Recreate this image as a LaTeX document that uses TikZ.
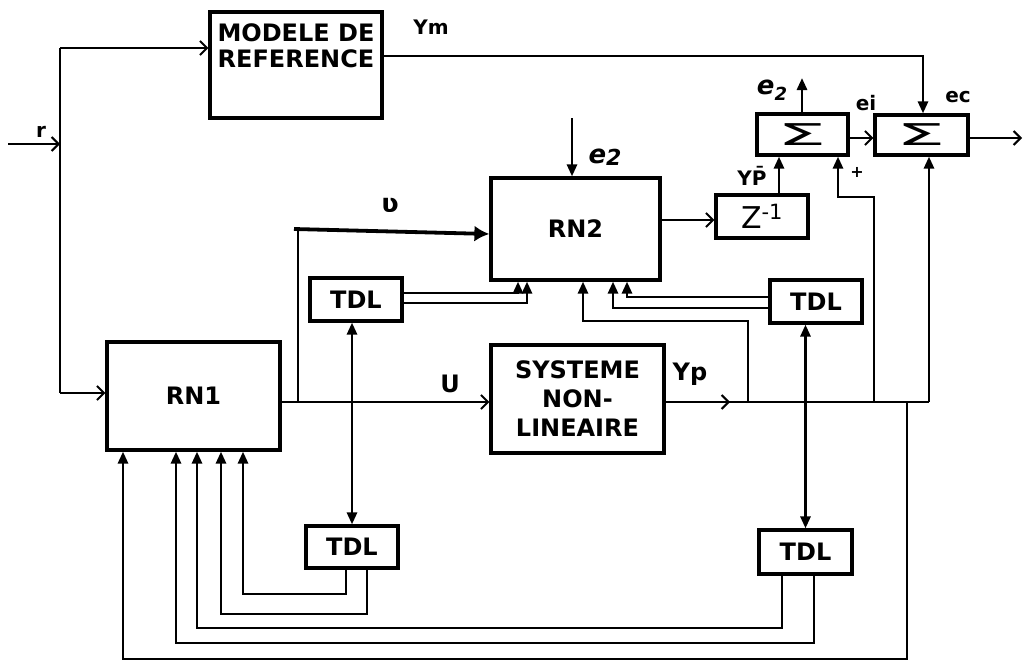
\documentclass[tikz,border=0pt]{standalone}
\usepackage{fontspec}
\setmainfont{DejaVu Sans}
\usepackage{graphicx}
\usetikzlibrary{arrows.meta}
\begin{document}
\begin{tikzpicture}[x=1pt,y=-1pt,
  line width=2.8pt,
  blk/.style={draw, line width=3.2pt, rectangle, inner sep=0pt, font=\fontsize{24}{29}\selectfont\bfseries, align=center},
  lbl/.style={inner sep=0pt, font=\fontsize{24}{26}\selectfont\bfseries},
  slbl/.style={inner sep=0pt, font=\fontsize{20}{22}\selectfont\bfseries},
  hand/.style={inner sep=0pt, font=\fontsize{26}{28}\selectfont\bfseries\itshape},
  oarr/.style={-{Straight Barb[length=7pt,width=14pt,line width=2pt]}},
  farr/.style={-{Triangle[length=12pt,width=10pt]}},
  fboth/.style={{Triangle[length=12pt,width=10pt]}-{Triangle[length=12pt,width=10pt]}},
  ]
\useasboundingbox (0,0) rectangle (1031,661);
\fill[white] (0,0) rectangle (1031,661);

% boxes
\node[blk, minimum width=172pt, minimum height=106pt] (mod) at (296,65) {};
\node[inner sep=0pt, font=\fontsize{24}{26}\selectfont\bfseries, align=center] (modt) at (296,46) {MODELE DE\\REFERENCE};
\node[blk, minimum width=173pt, minimum height=108pt] (rn1) at (193.5,396) {RN1};
\node[blk, minimum width=169pt, minimum height=102pt] (rn2) at (575.5,229) {RN2};
\node[blk, minimum width=173pt, minimum height=108pt] (sys) at (577.5,399) {SYSTEME\\NON-\\LINEAIRE};
\node[blk, minimum width=92pt, minimum height=43pt] (tdl1) at (356,299.5) {TDL};
\node[blk, minimum width=92pt, minimum height=43pt] (tdl3) at (816,301.5) {TDL};
\node[blk, minimum width=92pt, minimum height=42pt] (tdl4) at (352,547) {TDL};
\node[blk, minimum width=93pt, minimum height=44pt] (tdl5) at (805.5,552) {TDL};
\node[blk, minimum width=92pt, minimum height=43pt, font=\fontsize{30}{32}\selectfont] (zbox) at (762,216.5) {Z\textsuperscript{-1}};
\node[blk, minimum width=91pt, minimum height=41pt, font=\fontsize{30}{32}\selectfont] (sum1) at (802.5,134.5) {\scalebox{2.6}[1]{Σ}};
\node[blk, minimum width=93pt, minimum height=40pt, font=\fontsize{30}{32}\selectfont] (sum2) at (921.5,135) {\scalebox{2.6}[1]{Σ}};

% coordinates
\coordinate (rin) at (8,144);
\coordinate (rj) at (60,144);
\coordinate (rtop) at (60,48);
\coordinate (rbot) at (60,393);
\coordinate (ymc) at (923,56);
\coordinate (uj) at (298,402);
\coordinate (uth) at (294,229);
\coordinate (yp) at (664,402);
\coordinate (ypa) at (730,402);
\coordinate (ypj1) at (748,402);
\coordinate (ypj2) at (874,402);
\coordinate (ypj3) at (907,402);
\coordinate (ypend) at (929,402);
\coordinate (outc) at (1022,138);
\coordinate (e2o) at (802,78);
\coordinate (e2i) at (572,118);

% reference input
\draw[oarr] (rin) -- (rj);
\draw (rtop) -- (rbot);
\draw[oarr] (rtop) -- (rtop -| mod.west);
\draw[oarr] (rbot) -- (rbot -| rn1.west);

% model output
\draw[farr] (mod.east |- ymc) -- (ymc) -- (ymc |- sum2.north);

% U
\draw[oarr] (rn1.east |- uj) -- (sys.west |- uj);
\draw (uj) -- (298,229);
\draw[line width=3.8pt, -{Latex[length=15pt,width=16pt]}] (uth) -- (rn2.west |- 0,234);
\draw[fboth] (tdl4.north |- tdl1.south) -- (tdl4.north);

% TDL1 -> RN2
\draw[farr] (tdl1.east |- 0,293) -| (518,0 |- rn2.south);
\draw[farr] (tdl1.east |- 0,303) -| (527,0 |- rn2.south);

% Yp
\draw[oarr] (sys.east |- yp) -- (ypa);
\draw (728,402) -- (ypend);
\draw[farr] (ypj1) |- (583,321) -- (583,0 |- rn2.south);
\draw[farr] (tdl3.west |- 0,297) -| (627,0 |- rn2.south);
\draw[farr] (tdl3.west |- 0,308) -| (613,0 |- rn2.south);
\draw[fboth] (tdl5.north) -- (tdl5.north |- tdl3.south);
\draw[farr] (ypj2) |- (838,197) -- (838,0 |- sum1.south);
\draw[farr] (ypend) -- (ypend |- sum2.south);
\draw[farr] (ypj3) -- (907,659) -| (123,0 |- rn1.south);

% TDL outputs to RN1
\draw[farr] (782,0 |- tdl5.south) |- (197,628) -- (197,0 |- rn1.south);
\draw[farr] (814,0 |- tdl5.south) |- (176,643) -- (176,0 |- rn1.south);
\draw[farr] (346,0 |- tdl4.south) |- (243,594) -- (243,0 |- rn1.south);
\draw[farr] (367,0 |- tdl4.south) |- (221,614) -- (221,0 |- rn1.south);

% RN2 -> Z -> sum
\draw[oarr] (rn2.east |- 0,220) -- (zbox.west |- 0,220);
\draw[farr] (779,0 |- zbox.north) -- (779,0 |- sum1.south);
\draw[farr] (802,0 |- sum1.north) -- (e2o);
\draw[oarr] (sum1.east |- 0,138) -- (sum2.west |- 0,138);
\draw[oarr] (sum2.east |- outc) -- (outc);
\draw[farr] (e2i) -- (e2i |- rn2.north);

% labels
\node[slbl] (lr) at (41,132) {r};
\node[slbl] (lym) at (431,27) {Ym};
\node[slbl] (lec) at (958,97) {ec};
\node[slbl] (lei) at (866,103) {ei};
\node[slbl, font=\fontsize{16}{18}\selectfont\bfseries] (lplus) at (857,172) {+};
\node[slbl] (lyp2) at (752,176) {Y\={P}};
\node[hand] (le2a) at (772,90) {e\raisebox{-6pt}{\fontsize{18}{18}\selectfont 2}};
\node[hand] (le2b) at (605,157) {e\raisebox{-2pt}{\fontsize{22}{22}\selectfont 2}};
\node[lbl, font=\fontsize{26}{28}\selectfont\bfseries] (lu2) at (390,205) {ʋ};
\node[lbl] (lU) at (450,384) {U};
\node[lbl] (lYp) at (690,374) {Yp};
\end{tikzpicture}
\end{document}
